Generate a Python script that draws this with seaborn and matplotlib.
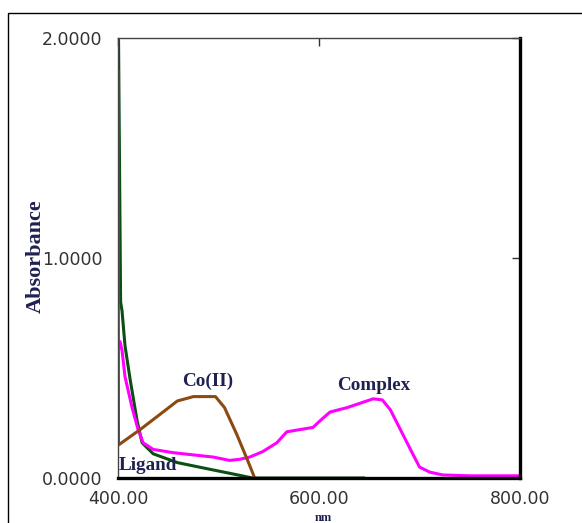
import matplotlib
matplotlib.use('Agg')
import matplotlib.pyplot as plt
from matplotlib.patches import Rectangle
import seaborn as sns

# Spectra (wavelength in nm, absorbance)
ligand_nm = [400, 402.6, 404, 407, 412, 419, 424, 435, 459, 491, 518, 534, 600, 645]
ligand_abs = [2.3, 0.80, 0.76, 0.60, 0.45, 0.26, 0.16, 0.11, 0.07, 0.04, 0.015, 0.0, 0.0, 0.0]

co_nm = [400, 400.5, 422, 442, 459, 475, 497, 506, 518, 529, 536]
co_abs = [1.85, 0.15, 0.22, 0.29, 0.35, 0.37, 0.37, 0.32, 0.20, 0.08, 0.0]

complex_nm = [402, 404, 407, 414, 420, 425, 435, 455, 475, 495, 511, 521, 531, 544,
              558, 568, 581, 594, 601, 611, 628, 641, 654, 663, 671, 681, 691, 700,
              710, 723, 750, 800]
complex_abs = [0.62, 0.58, 0.46, 0.32, 0.22, 0.16, 0.13, 0.115, 0.105, 0.095, 0.08,
               0.085, 0.095, 0.12, 0.16, 0.21, 0.22, 0.23, 0.26, 0.30, 0.32, 0.34,
               0.36, 0.355, 0.31, 0.22, 0.13, 0.05, 0.027, 0.014, 0.01, 0.01]

x_ticks = [400, 600, 800]
x_tick_labels = ['400.00', '600.00', '800.00']
y_ticks = [0, 1, 2]
y_tick_labels = ['0.0000', '1.0000', '2.0000']

# curve labels: (text, nm, absorbance)
curve_labels = [('Co(II)', 489, 0.44), ('Complex', 654, 0.42), ('Ligand', 430, 0.055)]

sns.set_style('white')
plt.rcParams['font.family'] = ['DejaVu Sans']

fig = plt.figure(figsize=(5.82, 5.23), dpi=100)
ax = fig.add_axes([118 / 582, 1 - 478 / 523, 402 / 582, 440 / 523])

# outer frame (runs off the right and bottom edges)
fig.patches.append(Rectangle((8 / 582, -0.2), 1.2, 1.2 - 13 / 523, transform=fig.transFigure,
                             fill=False, edgecolor='black', linewidth=1.0, clip_on=False))

sns.lineplot(x=ligand_nm, y=ligand_abs, color='#0b4f12', linewidth=2.2, ax=ax, sort=False)
sns.lineplot(x=complex_nm, y=complex_abs, color='#ff00ff', linewidth=2.2, ax=ax, sort=False)
sns.lineplot(x=co_nm, y=co_abs, color='#8b4a10', linewidth=2.2, ax=ax, sort=False)

ax.set_xlim(400, 800)
ax.set_ylim(0, 2)
ax.set_xticks(x_ticks)
ax.set_xticklabels(x_tick_labels)
ax.set_yticks(y_ticks)
ax.set_yticklabels(y_tick_labels)
ax.tick_params(axis='both', direction='in', length=6, width=1, color='#333333',
               labelsize=12.5, labelcolor='#333333', top=True, right=True, pad=11)
ax.tick_params(axis='x', pad=9)

for side in ['top', 'left']:
    ax.spines[side].set_color('#444444')
    ax.spines[side].set_linewidth(1.0)
for side in ['bottom', 'right']:
    ax.spines[side].set_color('black')
    ax.spines[side].set_linewidth(2.4)

ax.set_xlabel('')
ax.set_ylabel('')

serif = dict(family='Liberation Serif', fontweight='bold', color='#1f2250')
fig.text(36 / 582, 1 - 256 / 523, 'Absorbance', rotation=90, ha='center', va='center',
         fontsize=16, **serif)
fig.text(323 / 582, 1 - 518 / 523, 'nm', ha='center', va='center', fontsize=9, **serif)
for label, nm, absb in curve_labels:
    ax.text(nm, absb, label, ha='center', va='center', fontsize=13.8, **serif)

fig.savefig('out.png', dpi=100)
